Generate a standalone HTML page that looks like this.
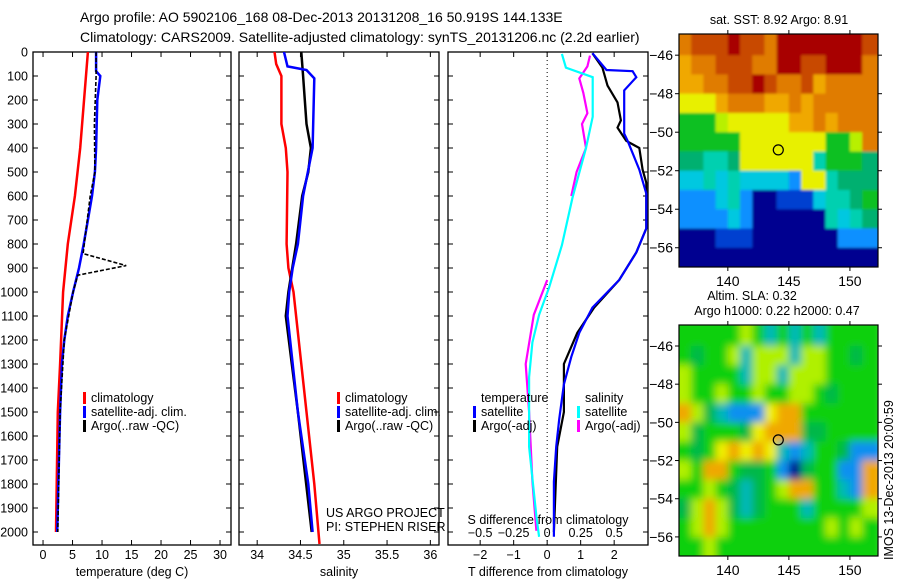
<!DOCTYPE html>
<html><head><meta charset="utf-8"><style>
body{margin:0;background:#fff;width:900px;height:580px;overflow:hidden}
svg text{font-family:"Liberation Sans",sans-serif;font-size:12.5px;fill:#000}
</style></head><body>
<svg id="c" width="900" height="580">
<defs>
<clipPath id="cp1"><rect x="33" y="52" width="198" height="493"/></clipPath>
<clipPath id="cp2"><rect x="239" y="52" width="200" height="493"/></clipPath>
<clipPath id="cp3"><rect x="448" y="52" width="200" height="493"/></clipPath>
<clipPath id="cpm1"><rect x="679" y="34" width="199" height="233"/></clipPath>
<clipPath id="cpm2"><rect x="679" y="325" width="199" height="231"/></clipPath>
<filter id="blurS" x="-10%" y="-10%" width="120%" height="120%"><feGaussianBlur stdDeviation="4"/></filter>
<filter id="blurT" x="-5%" y="-5%" width="110%" height="110%"><feGaussianBlur stdDeviation="1.2"/></filter>
</defs>
<g id="titles">
<text x="80" y="22" style="font-size:14px">Argo profile: AO 5902106_168 08-Dec-2013 20131208_16 50.919S 144.133E</text>
<text x="80" y="42" style="font-size:14px">Climatology: CARS2009. Satellite-adjusted climatology: synTS_20131206.nc (2.2d earlier)</text>
</g>
</svg>
<script>
// ---- data ----
const depthTicks=[0,100,200,300,400,500,600,700,800,900,1000,1100,1200,1300,1400,1500,1600,1700,1800,1900,2000];
const tempTicks=[0,5,10,15,20,25,30];
const salTicks=[34,34.5,35,35.5,36];
const tdTicks=[-2,-1,0,1,2];
const sdTicks=[-0.5,-0.25,0,0.25,0.5];
const climTDepth=[0,400,600,800,1000,1300,1500,2000];
const climTVal=[7.6,6.3,5.4,4.2,3.4,2.9,2.5,2.2];
const satTDepth=[0,80,100,200,400,500,600,700,800,900,1000,1100,1200,1300,1500,1600,2000];
const satTVal=[9.0,9.0,9.7,9.2,9.0,8.8,8.3,7.6,6.9,6.1,5.1,4.2,3.6,3.2,2.9,2.8,2.4];
const argoTDepth=[0,100,300,500,600,840,890,930,1000,1200,1500,2000];
const argoTVal=[9.0,9.0,8.7,8.8,8.0,6.8,14.1,5.9,5.1,3.6,2.9,2.5];
const climSDepth=[0,50,100,300,400,500,800,900,1000,1300,1500,1800,2050];
const climSVal=[34.2,34.22,34.28,34.28,34.33,34.35,34.34,34.36,34.42,34.51,34.57,34.66,34.72];
const satSDepth=[0,60,75,110,400,600,800,900,1000,1100,1300,1500,1800,2000];
const satSVal=[34.31,34.35,34.57,34.66,34.64,34.53,34.47,34.41,34.37,34.35,34.41,34.47,34.59,34.64];
const argoSDepth=[0,100,200,300,400,500,600,800,1000,1100,1300,1500,2000];
const argoSVal=[34.51,34.53,34.55,34.57,34.62,34.59,34.52,34.45,34.36,34.33,34.40,34.47,34.63];
const satDTDepth=[5,75,80,105,160,340,370,490,590,735,835,950,1065,1170,1270,1385,1530,1645,1790,2020];
const satDTVal=[1.35,1.77,2.55,2.66,2.3,2.3,2.4,2.75,2.96,2.96,2.66,2.15,1.35,0.96,0.72,0.5,0.36,0.27,0.2,0.2];
const argoDTDepth=[5,65,140,210,285,315,370,400,490,545,735,835,950,1065,1170,1300,1500,1645,2000];
const argoDTVal=[1.35,1.65,1.8,2.1,2.2,2.1,2.36,2.75,2.85,2.96,2.96,2.66,2.15,1.4,0.9,0.5,0.5,0.3,0.2];
const satDSDepth=[8,65,105,270,400,605,805,980,1095,1210,1355,1645,1935,2020];
const satDSVal=[0.11,0.14,0.34,0.34,0.29,0.19,0.11,0.015,-0.06,-0.11,-0.135,-0.135,-0.08,-0.06];
const argoDSDepth=[15,60,110,170,255,300,400,500,600];
const argoDSVal=[0.32,0.3,0.24,0.27,0.3,0.26,0.29,0.22,0.18];
const argoDSDepth2=[950,1095,1300,1500,1790,1995];
const argoDSVal2=[0,-0.1,-0.16,-0.135,-0.11,-0.08];
const lonTicks=[140,145,150];
const latTicks=[-46,-48,-50,-52,-54,-56];
const sstRows=["ORRRDRRODDDDDDDR","oOORRROODDRRDDDO","ooOORRDROORoOOOO","YYYoOOOooOoOOOOO","GGGyYYYYYooOoOOO","GGGGGYYYYYYYGGyO","ggCCgYYYYYYCGGGg","ccCcCccccBYYCggg","BBBcCBNNbbbcCCgG","BBBBcBNNNNNNCcCg","NNNbbbNNNNNNNBBB","NNNNNNNNNNNNNNNN"];
const slaRows=["GGGGGyGcGcGcGGGG","GgGGycyyycyyGGgG","yGGGGcyycyyyGGGG","yGGyGGyGGyyGgGGG","OygcBBBYOOGGGGGG","ygGGGgYOOOggGGGG","GgGYOYOYcBcGGgBB","yGOOGggGBNgGGBBO","GGyGgcgGyOOGGcBO","gyOygcgGGGcGGGGy","GyOyGGGGGGGGyGyG","GGyGGGGGGGGGGGGG"];
const sstPal={D:"#a80000",R:"#c84800",O:"#e07c00",o:"#f0a800",Y:"#e8f000",y:"#b8f000",G:"#10c020",g:"#00b070",C:"#00d0b0",c:"#00c8e0",B:"#1090ff",b:"#0040d0",N:"#000090"};
const slaPal={G:"#10d010",g:"#00b848",y:"#b0f000",Y:"#f0f000",O:"#f0a800",c:"#00b8b8",B:"#1090f0",N:"#000090"};
// ---- helpers ----
const NS="http://www.w3.org/2000/svg";const svg=document.getElementById('c');
function mk(t,a,p){const e=document.createElementNS(NS,t);for(const k in a)e.setAttribute(k,a[k]);(p||svg).appendChild(e);return e;}
const Y=d=>52+0.24*d;
const panels=[
 {x0:33,x1:231,lo:-1.7,hi:31.86,name:'temperature-panel',clip:'cp1'},
 {x0:239,x1:439,lo:33.79,hi:36.1,name:'salinity-panel',clip:'cp2'},
 {x0:448,x1:648,lo:-2.96,hi:3.01,name:'difference-panel',clip:'cp3'}];
function X(p,v){return p.x0+(v-p.lo)/(p.hi-p.lo)*(p.x1-p.x0);}
function line(p,ds,vs,col,w,name,dash,scale){
 const pts=ds.map((d,i)=>X(p,vs[i]*(scale||1)).toFixed(1)+','+Y(d).toFixed(1)).join(' ');
 const e=mk('polyline',{points:pts,fill:'none',stroke:col,'stroke-width':w,'clip-path':'url(#'+p.clip+')'});
 if(dash)e.setAttribute('stroke-dasharray',dash);
 
 
}
function txt(x,y,s,anchor,name,extra){const e=mk('text',Object.assign({x:x,y:y,'text-anchor':anchor||'start'},extra||{}));e.textContent=s;
 
 return e;}
// frames & ticks
panels.forEach((p,pi)=>{
 const f=mk('rect',{x:p.x0,y:52,width:p.x1-p.x0,height:493,fill:'none',stroke:'#000','stroke-width':1.3});
 
 
 depthTicks.forEach(d=>{
  mk('line',{x1:p.x0,x2:p.x0+5,y1:Y(d),y2:Y(d),stroke:'#000'});
  mk('line',{x1:p.x1,x2:p.x1-5,y1:Y(d),y2:Y(d),stroke:'#000'});
  if(pi===0)txt(28,Y(d)+4.5,String(d),'end','depth-tick-label');
 });
 const ticks=[tempTicks,salTicks,tdTicks][pi];
 ticks.forEach(t=>{const x=X(p,t);
  mk('line',{x1:x,x2:x,y1:545,y2:540,stroke:'#000'});mk('line',{x1:x,x2:x,y1:52,y2:57,stroke:'#000'});
  txt(x,559,String(t).replace('-','\u2212'),'middle','x-tick-label');});
});
txt(132,576,'temperature (deg C)','middle','x-axis-title-temperature');
txt(339,576,'salinity','middle','x-axis-title-salinity');
txt(548,576,'T difference from climatology','middle','x-axis-title-tdiff');
// diff panel extras
const p3=panels[2];
const z=mk('line',{x1:X(p3,0),x2:X(p3,0),y1:52,y2:545,stroke:'#000','stroke-dasharray':'1,3'});


sdTicks.forEach(s=>txt(X(p3,s*4),537,String(s).replace('-','\u2212'),'middle','s-diff-tick-label'));
txt(548,524,'S difference from climatology','middle','s-diff-axis-title');
// series
const P1=panels[0],P2=panels[1];
line(P1,climTDepth,climTVal,'#f00',2.5,'climatology-temperature-line');
line(P1,satTDepth,satTVal,'#00f',2.5,'satellite-temperature-line');
line(P1,argoTDepth,argoTVal,'#000',1.6,'argo-temperature-line','4,2');
line(P2,climSDepth,climSVal,'#f00',2.5,'climatology-salinity-line');
line(P2,argoSDepth,argoSVal,'#000',2.5,'argo-salinity-line');
line(P2,satSDepth,satSVal,'#00f',2.5,'satellite-salinity-line');
line(p3,argoDTDepth,argoDTVal,'#000',2.2,'argo-tdiff-line');
line(p3,satDTDepth,satDTVal,'#00f',2.2,'satellite-tdiff-line');
line(p3,argoDSDepth,argoDSVal,'#f0f',2.2,'argo-sdiff-line',null,4);
line(p3,argoDSDepth2,argoDSVal2,'#f0f',2.2,'argo-sdiff-line-deep',null,4);
line(p3,satDSDepth,satDSVal,'#0ff',2.2,'satellite-sdiff-line',null,4);
// legends
function leg(x,y,col,s,name){const r=mk('rect',{x:x-8,y:y-10,width:3,height:12,fill:col});
 
 
 txt(x,y,s,'start',name);}
leg(91,402,'#f00','climatology','legend-climatology');
leg(91,416,'#00f','satellite-adj. clim.','legend-satellite-adj');
leg(91,430,'#000','Argo(..raw -QC)','legend-argo');
leg(345,402,'#f00','climatology','legend-climatology-sal');
leg(345,416,'#00f','satellite-adj. clim.','legend-satellite-adj-sal');
leg(345,430,'#000','Argo(..raw -QC)','legend-argo-sal');
txt(481,402,'temperature','start','legend-temperature-header');
txt(585,402,'salinity','start','legend-salinity-header');
leg(481,416,'#00f','satellite','legend-t-satellite');
leg(481,430,'#000','Argo(-adj)','legend-t-argo');
leg(585,416,'#0ff','satellite','legend-s-satellite');
leg(585,430,'#f0f','Argo(-adj)','legend-s-argo');
txt(326,517,'US ARGO PROJECT','start','project-label');
txt(326,531,'PI: STEPHEN RISER','start','pi-label');
// maps
const LON0=136.0,LON1=152.3,LAT0=-44.9,LAT1=-57.0;
function map(top,bottom,rows,pal,name,clip,filt){
 const x0=679,x1=878;const LX=l=>x0+(l-LON0)/(LON1-LON0)*(x1-x0);const LY=l=>top+(l-LAT0)/(LAT1-LAT0)*(bottom-top);
 const outer=mk('g',{'clip-path':'url(#'+clip+')'});
 const g=mk('g',{filter:'url(#'+filt+')'},outer);
 
 rows.forEach((r,i)=>{for(let j=0;j<r.length;j++){
  const xa=LX(136+j)-(j===0?8:0),xb=LX(137+j)+(j===r.length-1?8:0),ya=LY(-45-i)-(i===0?8:0),yb=LY(-46-i)+(i===rows.length-1?8:0);
  const c=mk('rect',{x:xa,y:ya,width:xb-xa+0.5,height:yb-ya+0.5,fill:pal[r[j]]},g);
  
  }});
 mk('rect',{x:x0,y:top,width:x1-x0,height:bottom-top,fill:'none',stroke:'#000','stroke-width':1.2});
 lonTicks.forEach(l=>{const x=LX(l);mk('line',{x1:x,x2:x,y1:top,y2:top-4,stroke:'#000'});mk('line',{x1:x,x2:x,y1:bottom,y2:bottom+4,stroke:'#000'});
  txt(x,bottom+19,String(l),'middle','map-lon-label',{style:'font-size:14px'});});
 latTicks.forEach(l=>{const y=LY(l);mk('line',{x1:x0,x2:x0-4,y1:y,y2:y,stroke:'#000'});mk('line',{x1:x1,x2:x1+4,y1:y,y2:y,stroke:'#000'});
  txt(x0-6,y+5,String(l).replace('-','\u2212'),'end','map-lat-label',{style:'font-size:14px'});});
 const m=mk('circle',{cx:LX(144.133),cy:LY(-50.919),r:5,fill:'none',stroke:'#000','stroke-width':1.2});
 
 
}
map(34,267,sstRows,sstPal,'sst-map','cpm1','blurT');
map(325,556,slaRows,slaPal,'sla-map','cpm2','blurS');
txt(779,24,'sat. SST: 8.92  Argo: 8.91','middle','sst-map-title');
txt(752,300,'Altim. SLA: 0.32','middle','sla-map-title');
txt(777,315,'Argo h1000: 0.22 h2000: 0.47','middle','sla-map-subtitle');
txt(0,0,'IMOS 13-Dec-2013 20:00:59','start','timestamp-label',{transform:'translate(893,560) rotate(-90)'});
</script>
</body></html>
